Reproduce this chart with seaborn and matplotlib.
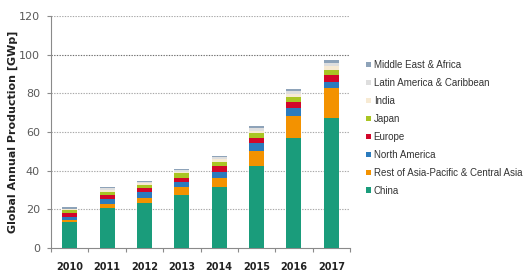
import matplotlib
matplotlib.use("Agg")
import matplotlib.pyplot as plt
import seaborn as sns
import numpy as np
import pandas as pd
from matplotlib.patches import Patch
from matplotlib.ticker import MultipleLocator, FixedLocator

years = ["2010", "2011", "2012", "2013", "2014", "2015", "2016", "2017"]
china = [13.3, 20.9, 23.4, 27.4, 31.4, 42.6, 56.7, 67.4]
rest_asia = [1.2, 1.9, 2.6, 4.3, 4.6, 7.6, 11.6, 15.2]
north_america = [1.5, 2.4, 2.8, 2.6, 3.5, 4.0, 4.0, 3.4]
europe = [1.9, 2.2, 2.1, 1.7, 2.9, 2.9, 3.4, 3.5]
japan = [1.6, 1.7, 1.7, 2.6, 2.3, 2.2, 2.3, 2.6]
india = [0.5, 0.9, 0.9, 0.9, 1.2, 1.4, 1.7, 2.1]
latin_america = [0.4, 0.9, 0.6, 0.8, 1.0, 1.2, 1.5, 1.7]
middle_east = [0.6, 0.8, 0.6, 0.6, 0.7, 1.2, 1.1, 1.4]

series_names = ["China", "Rest of Asia-Pacific & Central Asia", "North America",
                "Europe", "Japan", "India", "Latin America & Caribbean",
                "Middle East & Africa"]
series_values = [china, rest_asia, north_america, europe, japan, india,
                 latin_america, middle_east]
colors = ["#1a9c7b", "#f39200", "#2b7bbd", "#d2062a", "#a9c523", "#f7ead3",
          "#dedede", "#8ea3b9"]

sns.set_theme(style="white")
plt.rcParams["font.family"] = ["DejaVu Sans"]

fig = plt.figure(figsize=(5.25, 2.71), dpi=100)
ax = fig.add_axes([51 / 525, 23 / 271, 299 / 525, 232 / 271])

cum = np.zeros(len(years))
cums = []
for vals in series_values:
    cum = cum + np.array(vals)
    cums.append(cum.copy())

for name, c, color in reversed(list(zip(series_names, cums, colors))):
    d = pd.DataFrame({"year": years, "value": c})
    sns.barplot(data=d, x="year", y="value", color=color, width=0.4,
                saturation=1, ax=ax, zorder=3, linewidth=0)

ax.set_ylim(0, 120)
ax.set_xlim(-0.5, len(years) - 0.5)
ax.yaxis.set_major_locator(MultipleLocator(20))
for y in [20, 40, 60, 80, 120]:
    ax.axhline(y, color="#a8a8a8", linestyle=(0, (1.2, 1.2)), linewidth=0.8, zorder=1)
ax.axhline(100, color="#6e6e6e", linestyle=(0, (1.2, 1.2)), linewidth=0.8, zorder=1)

for s in ["top", "right"]:
    ax.spines[s].set_visible(False)
for s in ["left", "bottom"]:
    ax.spines[s].set_color("#8a8a8a")
    ax.spines[s].set_linewidth(0.8)

ax.tick_params(axis="y", which="major", left=True, length=3, width=0.8,
               color="#8a8a8a", labelsize=8, labelcolor="#5a5a5a", pad=5)
ax.tick_params(axis="x", which="major", bottom=False, labelsize=7, pad=4)
ax.xaxis.set_minor_locator(FixedLocator(np.arange(-0.5, len(years), 1.0)))
ax.tick_params(axis="x", which="minor", bottom=True, length=3, width=0.8,
               color="#8a8a8a")
for lab in ax.get_xticklabels():
    lab.set_fontweight("bold")
    lab.set_color("#222222")

ax.set_xlabel("")
ax.set_ylabel("Global Annual Production [GWp]", fontsize=8, fontweight="bold",
              color="#222222")
ax.yaxis.set_label_coords(-0.11, 0.5)

handles = [Patch(facecolor=c, edgecolor="none", label=n)
           for n, c in zip(series_names, colors)][::-1]
fig.legend(handles=handles, loc="upper left", bbox_to_anchor=(362 / 525, 1 - 56 / 271),
           frameon=False, handlelength=0.5, handleheight=0.5,
           handletextpad=0.3, labelspacing=0.82, borderaxespad=0,
           labelcolor="#333333", prop={"family": "Liberation Sans", "size": 7})

fig.savefig("out.png", dpi=100)
